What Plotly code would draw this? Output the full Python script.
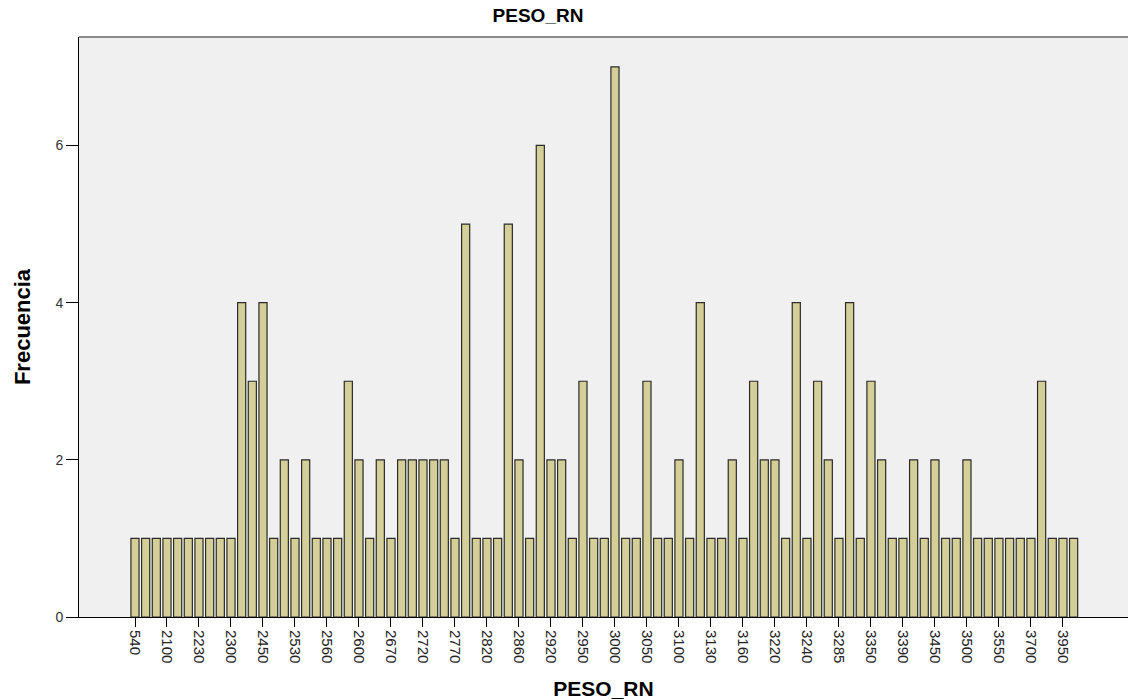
import plotly.graph_objects as go

# Tick labels shown (every third category)
tick_labels = ["540", "2100", "2230", "2300", "2450", "2530", "2560", "2600", "2670", "2720",
               "2770", "2820", "2860", "2920", "2950", "3000", "3050", "3100", "3130", "3160",
               "3220", "3240", "3285", "3350", "3390", "3450", "3500", "3550", "3700", "3950"]

# Frequencies of the 89 categories (left to right)
freq = [1, 1, 1, 1, 1, 1, 1, 1, 1, 1,
        4, 3, 4, 1, 2, 1, 2, 1, 1, 1,
        3, 2, 1, 2, 1, 2, 2, 2, 2, 2,
        1, 5, 1, 1, 1, 5, 2, 1, 6, 2,
        2, 1, 3, 1, 1, 7, 1, 1, 3, 1,
        1, 2, 1, 4, 1, 1, 2, 1, 3, 2,
        2, 1, 4, 1, 3, 2, 1, 4, 1, 3,
        2, 1, 1, 2, 1, 2, 1, 1, 2, 1,
        1, 1, 1, 1, 1, 3, 1, 1, 1]

positions = list(range(len(freq)))
tick_positions = positions[::3][:len(tick_labels)]

fig = go.Figure()
fig.add_trace(go.Bar(
    x=positions, y=freq, width=0.76,
    marker=dict(color="#d4cf96", line=dict(color="#2b2b2b", width=1.2)),
    hoverinfo="y",
))

font_family = "Liberation Sans, Arial, sans-serif"
fig.update_layout(
    width=1128, height=700,
    margin=dict(l=79, r=0, t=37, b=83),
    paper_bgcolor="white",
    plot_bgcolor="#f0f0f0",
    showlegend=False,
    font=dict(family=font_family, color="black"),
    title=dict(text="<b>PESO_RN</b>", x=538 / 1128, xref="container", xanchor="center",
               y=1 - 15 / 700, yref="container", yanchor="middle",
               font=dict(size=19, family=font_family)),
    xaxis=dict(
        range=[-5.25, 93.1],
        tickmode="array", tickvals=tick_positions, ticktext=tick_labels,
        tickangle=90, tickfont=dict(size=15, color="#222222"),
        ticks="outside", ticklen=9, tickcolor="black",
        showline=True, linecolor="black", linewidth=1,
        showgrid=False, zeroline=False,
        title=dict(text="<b>PESO_RN</b>", font=dict(size=21), standoff=20),
    ),
    yaxis=dict(
        range=[0, 7.38],
        tickvals=[0, 2, 4, 6], ticks="outside", ticklen=12, tickcolor="black",
        tickfont=dict(size=14, color="#333333"),
        showline=True, linecolor="black", linewidth=1,
        showgrid=False, zeroline=False,
        title=dict(text="<b>Frecuencia</b>", font=dict(size=22), standoff=18),
    ),
)
fig.add_shape(type="line", xref="paper", yref="paper", x0=0, x1=1, y0=1, y1=1,
              line=dict(color="#666666", width=1.5))

fig.write_html("out.html")
